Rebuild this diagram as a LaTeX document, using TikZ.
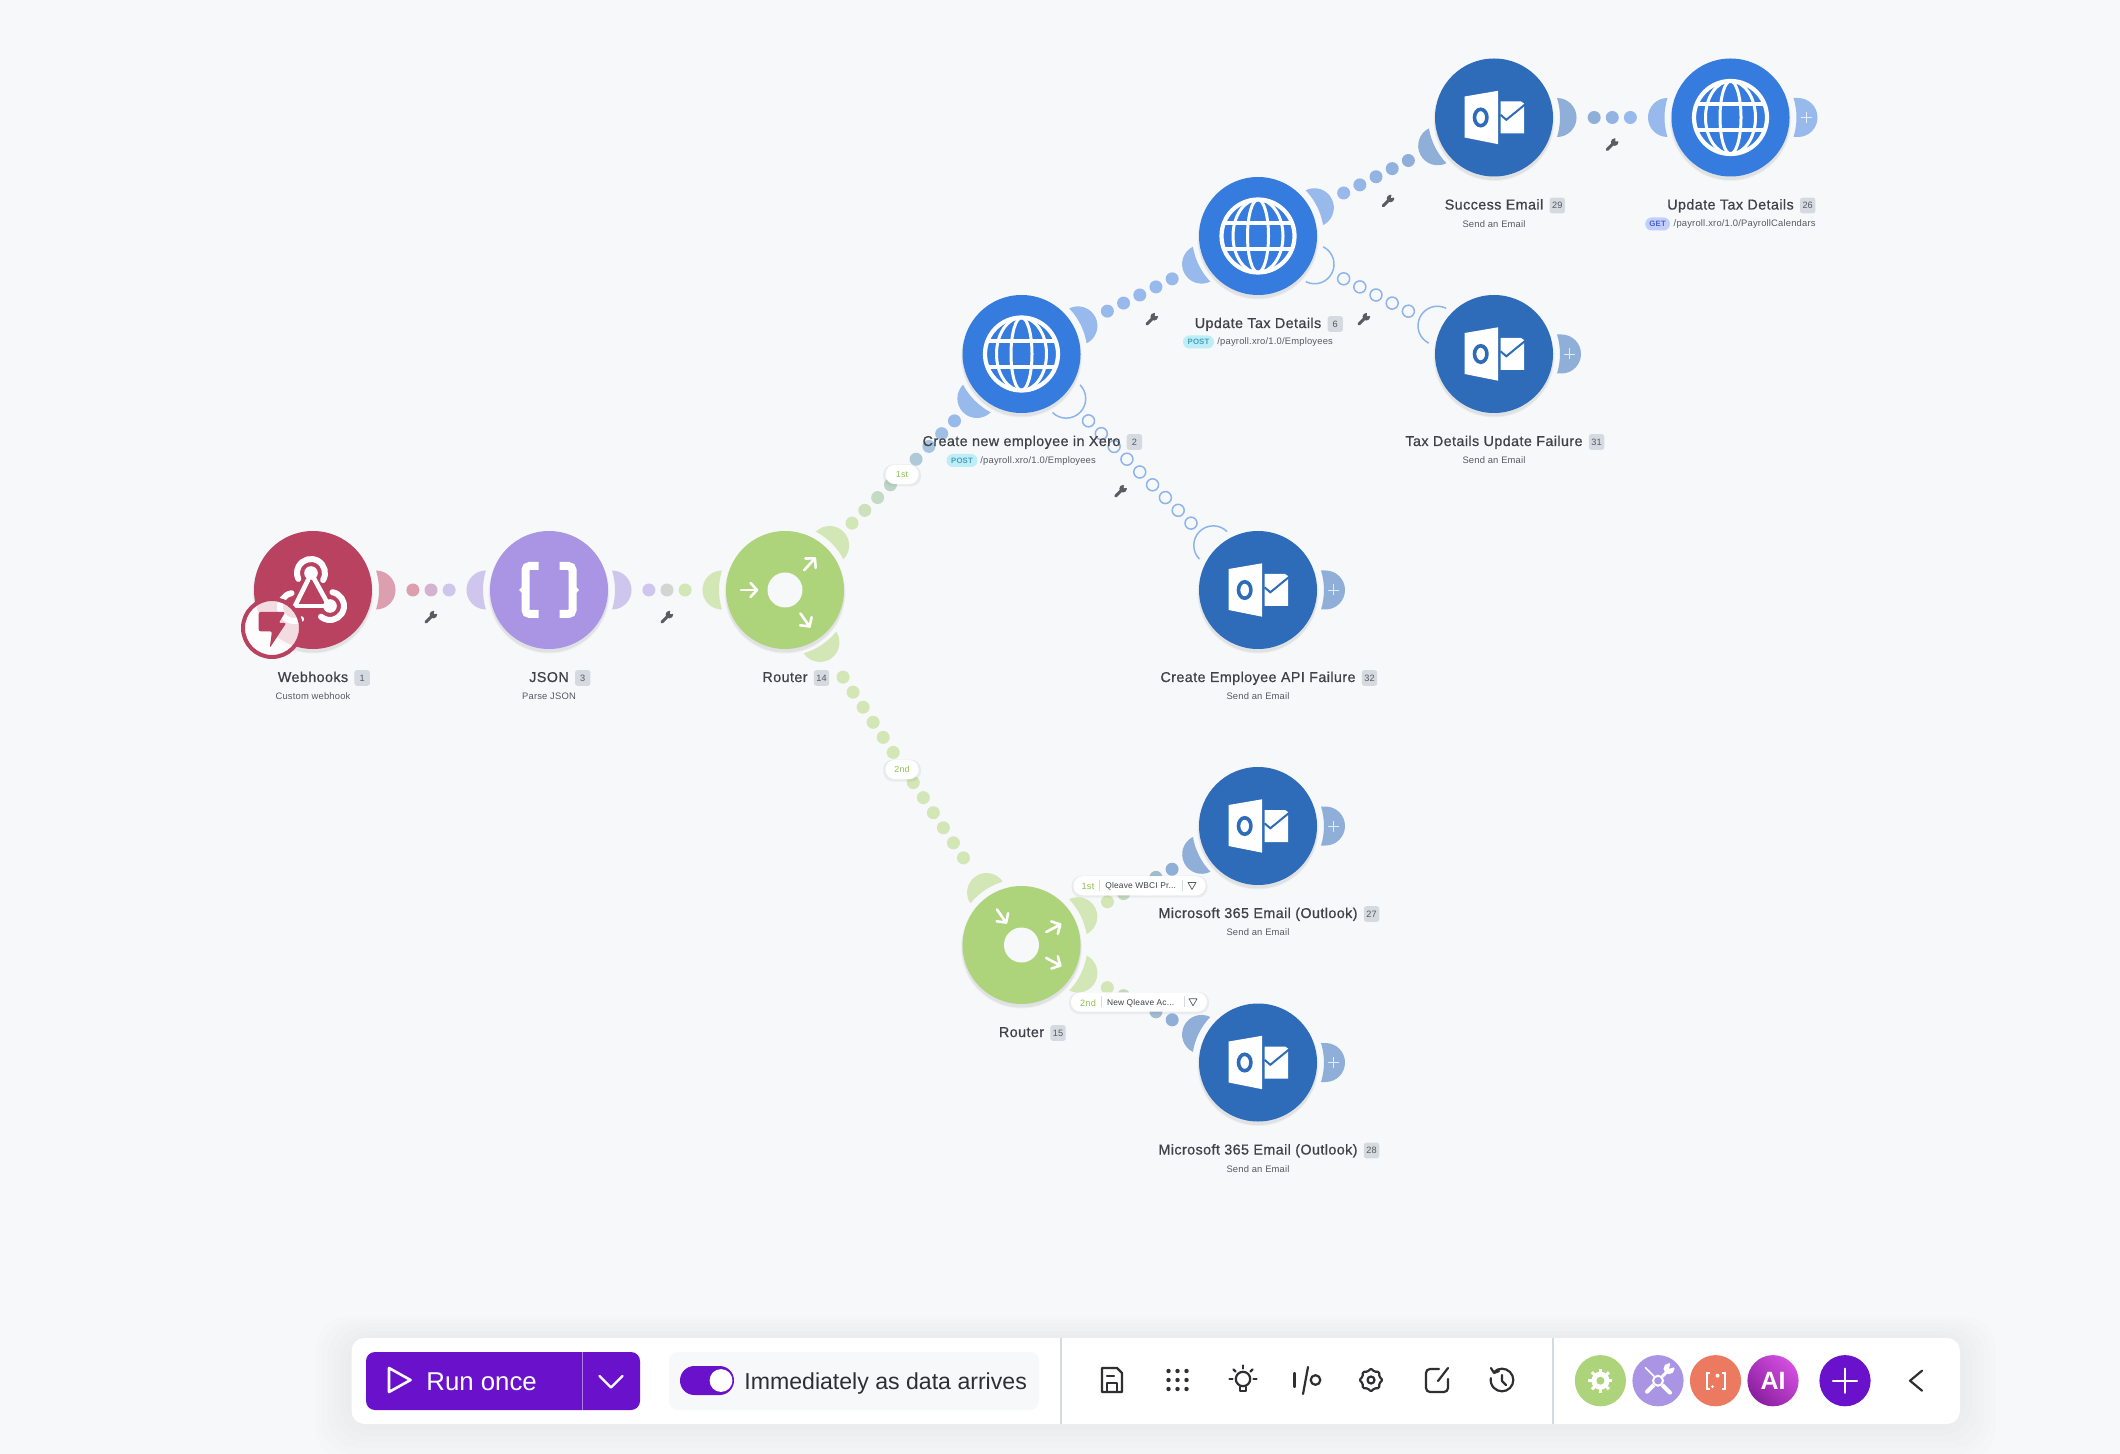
\documentclass[tikz,border=0pt]{standalone}
\usepackage{fontspec}
\setmainfont{Liberation Sans}
\newfontfamily\semi[LetterSpace=3,FakeBold=0.7]{Liberation Sans}
\newfontfamily\reg[LetterSpace=2]{Liberation Sans}
\usetikzlibrary{calc}
\definecolor{bgc}{HTML}{F7F8FA}
\definecolor{hookc}{HTML}{B84260}
\definecolor{jsonc}{HTML}{A995E3}
\definecolor{routc}{HTML}{AED47B}
\definecolor{httpc}{HTML}{367CDE}
\definecolor{mailc}{HTML}{2E6CB9}
\definecolor{hookm}{HTML}{DC9FB0}
\definecolor{jsonm}{HTML}{CFC6EE}
\definecolor{routm}{HTML}{D3E6B5}
\definecolor{httpm}{HTML}{97B9EC}
\definecolor{mailm}{HTML}{8FAFD9}
\definecolor{hollowc}{HTML}{8DB5EC}
\definecolor{titlec}{HTML}{3F4246}
\definecolor{subc}{HTML}{555A60}
\definecolor{badgec}{HTML}{D5DAE1}
\definecolor{purp}{HTML}{6A12CB}
\definecolor{toolc}{HTML}{2F2F33}
\definecolor{wrenchc}{HTML}{5A5C60}
\definecolor{greent}{HTML}{8CBF50}
\definecolor{orangec}{HTML}{EB7A60}
\definecolor{postbg}{HTML}{BDEEF8}
\definecolor{posttx}{HTML}{4A9FB8}
\definecolor{getbg}{HTML}{C3CFFB}
\definecolor{gettx}{HTML}{4A5FD0}
\definecolor{aitop}{HTML}{D44FE0}
\definecolor{aibot}{HTML}{8A1FA0}
\tikzset{
  module/.style={circle,inner sep=0pt,minimum size=59pt,draw=none},
  titletext/.style={inner sep=0pt,text=titlec,font=\fontsize{7.15}{8}\selectfont\semi,text height=5.4pt,text depth=1.4pt},
  subtext/.style={inner sep=0pt,text=subc,font=\fontsize{4.7}{6}\selectfont\reg,text height=3.6pt,text depth=1pt},
  badge/.style={inner sep=0pt,fill=badgec,rounded corners=1.2pt,text=subc,minimum width=7.7pt,minimum height=7.8pt,font=\fontsize{4.6}{6}\selectfont},
  pillbox/.style={inner sep=0pt,rounded corners=3.2pt,minimum height=6.5pt,font=\fontsize{3.9}{5}\selectfont\reg\bfseries},
  routepill/.style={inner sep=0pt,fill=white,rounded corners=4.7pt,minimum height=9.6pt,text=greent,font=\fontsize{4.4}{6}\selectfont\reg},
  toolicon/.style={draw=toolc,line width=1.1pt,line cap=round,line join=round},
  wht/.style={draw=white,line cap=round,line join=round},
  pics/globe/.style={code={
    \draw[white,line width=2.1pt] (0,0) circle[radius=36.5];
    \draw[white,line width=1.5pt] (0,0) ellipse[x radius=10.5,y radius=36.5];
    \draw[white,line width=1.5pt] (0,0) ellipse[x radius=25,y radius=36.5];
    \draw[white,line width=2pt] (-34,13) -- (34,13);
    \draw[white,line width=2pt] (-34,-13) -- (34,-13);
  }},
  pics/outlook/.style={code={
    \fill[white] (-29.3,21) -- (4,26.7) -- (4,-26.7) -- (-29.3,-20) -- cycle;
    \draw[mailc,line width=1.8pt] (-13.3,0) ellipse[x radius=6.2,y radius=8.2];
    \fill[white] (6.7,16) -- (27,16) -- (30,14) -- (30,-16) -- (6.7,-16) -- cycle;
    \draw[mailc,line width=1pt] (6.5,2.7) -- (12.3,-2.3) -- (31,13);
  }},
  pics/arrowicon/.style={code={
    \draw[wht,line width=1.3pt] (-8,0) -- (8,0);
    \draw[wht,line width=1.3pt] (1.5,7) -- (8,0) -- (1.5,-7);
  }},
  pics/wrench/.style={code={
    \draw[wrenchc,line width=1.5pt,line cap=round] (-5,-5) -- (2,2);
    \fill[wrenchc] (2.4,2.4) circle[radius=3.8];
    \fill[bgc] (3,3) -- (8,3.5) -- (3.5,8) -- cycle;
  }},
  pics/funnel/.style={code={
    \draw[subc,line width=.35pt,line join=round] (-4,3.2) -- (4,3.2) -- (0,-3.8) -- cycle;
  }}
}
\newcommand\modnode[4]{% name, x, y, colour
  \foreach \rr/\oo in {60.5/.04,59.5/.05}{\fill[black,opacity=\oo] (#2,#3-3) circle[radius=\rr];}
  \node[module,fill=#4] (#1) at (#2,#3) {};
}
\newcommand\moonA[3]{% from, to, colour: filled port on #1 towards #2
  \pgfmathanglebetweenpoints{\pgfpointanchor{#1}{center}}{\pgfpointanchor{#2}{center}}
  \let\ang\pgfmathresult
  \begin{scope}[shift={(#1.center)},rotate=\ang]
    \fill[#3] (17.2:66) arc[start angle=17.2,end angle=-17.2,radius=66]
      arc[start angle=-90,end angle=90,radius=19.5] -- cycle;
  \end{scope}
}
\newcommand\moonH[3]{% hollow port
  \pgfmathanglebetweenpoints{\pgfpointanchor{#1}{center}}{\pgfpointanchor{#2}{center}}
  \let\ang\pgfmathresult
  \begin{scope}[shift={(#1.center)},rotate=\ang]
    \draw[#3,line width=.75pt] (63.2,-19.5) arc[start angle=-90,end angle=90,radius=19.5];
  \end{scope}
}
\newcommand\moonP[2]{% plus port on the right
  \begin{scope}[shift={(#1.center)}]
    \fill[#2] (63,19.5) -- (67.5,19.5) arc[start angle=90,end angle=-90,radius=19.5] -- (63,-19.5)
      arc[start angle=-17.2,end angle=17.2,radius=66] -- cycle;
    \draw[white,opacity=.75,line width=.45pt] (70,0) -- (81,0) (75.5,-5.5) -- (75.5,5.5);
  \end{scope}
}
\newcommand\link[7]{% a, b, dot colour a, dot colour b, half count, moon a, moon b
  \foreach \i in {0,...,\numexpr2*#5\relax}{
    \pgfmathsetmacro\dd{(\i-#5)*9.05}
    \pgfmathtruncatemacro\pp{100*\i/(2*#5)}
    \colorlet{dotcol}{#4!\pp!#3}
    \fill[dotcol] ($(#1.center)!.5!(#2.center)!\dd pt!(#2.center)$) circle[radius=6.5];
  }
  \moonA{#1}{#2}{#6}
  \moonA{#2}{#1}{#7}
}
\newcommand\hlink[3]{% a, b, half count
  \foreach \i in {0,...,\numexpr2*#3\relax}{
    \pgfmathsetmacro\dd{(\i-#3)*9.05}
    \draw[hollowc,line width=.75pt] ($(#1.center)!.5!(#2.center)!\dd pt!(#2.center)$) circle[radius=6];
  }
  \moonH{#1}{#2}{hollowc}
  \moonH{#2}{#1}{hollowc}
}
\newcommand\wrenchat[2]{% a, b : wrench beside the middle of the link
  \coordinate (wm) at ($(#1.center)!.5!(#2.center)!13.5pt!-90:(#2.center)$);
  \pic at (wm) {wrench};
}
\newcommand\labelrow[4]{% name, module, title, number
  \node[titletext,anchor=center] (#1) at ($(#2.center)+(0,-88)$) {#3};
  \node[badge,anchor=west] (#1b) at ($(#1.east)+(5.5,0)$) {#4};
}
\begin{document}
\begin{tikzpicture}[x=.5pt,y=.5pt]
\useasboundingbox (0,0) rectangle (2120,-1454);
\fill[bgc] (0,0) rectangle (2120,-1454);

% modules
\modnode{m1}{313}{-590}{hookc}
\modnode{m3}{549}{-590}{jsonc}
\modnode{m14}{785}{-590}{routc}
\modnode{m2}{1021.5}{-354}{httpc}
\modnode{m6}{1258}{-236}{httpc}
\modnode{m29}{1494}{-117.5}{mailc}
\modnode{m26}{1730.5}{-117.5}{httpc}
\modnode{m31}{1494}{-354}{mailc}
\modnode{m32}{1258}{-590}{mailc}
\modnode{m15}{1021.5}{-945}{routc}
\modnode{m27}{1258}{-826}{mailc}
\modnode{m28}{1258}{-1062.5}{mailc}

% connectors
\link{m1}{m3}{hookm}{jsonm}{1}{hookm}{jsonm}
\link{m3}{m14}{jsonm}{routm}{1}{jsonm}{routm}
\link{m14}{m2}{routm}{httpm}{4}{routm}{httpm}
\link{m14}{m15}{routm}{routm}{6}{routm}{routm}
\link{m2}{m6}{httpm}{httpm}{2}{httpm}{httpm}
\link{m6}{m29}{httpm}{mailm}{2}{httpm}{mailm}
\link{m29}{m26}{mailm}{httpm}{1}{mailm}{httpm}
\link{m15}{m27}{routm}{mailm}{2}{routm}{mailm}
\link{m15}{m28}{routm}{mailm}{2}{routm}{mailm}
\hlink{m2}{m32}{4}
\hlink{m6}{m31}{2}
\moonP{m26}{httpm}
\moonP{m31}{mailm}
\moonP{m32}{mailm}
\moonP{m27}{mailm}
\moonP{m28}{mailm}

% wrenches
\wrenchat{m1}{m3}
\wrenchat{m3}{m14}
\wrenchat{m2}{m6}
\wrenchat{m6}{m29}
\wrenchat{m29}{m26}
\wrenchat{m6}{m31}
\wrenchat{m2}{m32}

% icons
\pic at (m2) {globe};
\pic at (m6) {globe};
\pic at (m26) {globe};
\foreach \mm in {m29,m31,m32,m27,m28}{\pic at (\mm) {outlook};}

% webhook
\begin{scope}[shift={(m1.center)}]
  \draw[wht,line width=2.3pt] (-2,17) -- (15,-14);
  \draw[wht,line width=2.3pt] (-18,-16) -- (17,-16);
  \draw[wht,line width=2.3pt] (-18,-16) -- (-5,10);
  \draw[wht,line width=3pt] (-2,17) ++(-30:14) arc[start angle=-30,end angle=205,radius=14];
  \fill[white] (-2,17) circle[radius=6.8];
  \draw[wht,line width=3pt] (17,-16) ++(80:14) arc[start angle=80,end angle=-130,radius=14];
  \fill[white] (17,-16) circle[radius=6.8];
  \draw[wht,line width=3pt] (-19,-17) ++(100:14) arc[start angle=100,end angle=300,radius=14];
\end{scope}
\node[circle,inner sep=0pt,minimum size=29pt,fill=white,fill opacity=.82,draw=hookc,line width=2pt,draw opacity=1] (bolt) at (272,-628) {};
\fill[hookc,rounded corners=1pt] ($(bolt)+(-13.3,16)$) -- ($(bolt)+(13.3,16)$) -- ($(bolt)+(6.7,5)$) -- ($(bolt)+(14.3,5)$) -- ($(bolt)+(-2.3,-20)$) -- ($(bolt)+(0,-3.3)$) -- ($(bolt)+(-13.3,-3.3)$) -- cycle;

% json braces
\begin{scope}[shift={(m3.center)}]
  \draw[white,line width=4pt,rounded corners=2pt] (-10.5,24) -- (-23.5,24) -- (-23.5,-24) -- (-10.5,-24);
  \draw[white,line width=4pt,rounded corners=2pt] (10.5,24) -- (23.5,24) -- (23.5,-24) -- (10.5,-24);
  \fill[white] (-24,6) -- (-30,0) -- (-24,-6) -- cycle;
  \fill[white] (24,6) -- (30,0) -- (24,-6) -- cycle;
\end{scope}

% routers
\fill[bgc] (m14.center) circle[radius=17.5];
\fill[bgc] (m15.center) circle[radius=17.5];
\begin{scope}[shift={(m14.center)}]
  \pic at (-36,0) {arrowicon};
  \pic[rotate=48] at (24.5,25.7) {arrowicon};
  \pic[rotate=-55] at (20,-30) {arrowicon};
\end{scope}
\begin{scope}[shift={(m15.center)}]
  \pic[rotate=-55] at (-20,29) {arrowicon};
  \pic[rotate=28] at (31.7,16.7) {arrowicon};
  \pic[rotate=-28] at (31.7,-16.7) {arrowicon};
\end{scope}

% labels
\labelrow{t1}{m1}{Webhooks}{1}
\labelrow{t3}{m3}{JSON}{3}
\labelrow{t14}{m14}{Router}{14}
\labelrow{t2}{m2}{Create new employee in Xero}{2}
\labelrow{t6}{m6}{Update Tax Details}{6}
\labelrow{t29}{m29}{Success Email}{29}
\labelrow{t26}{m26}{Update Tax Details}{26}
\labelrow{t31}{m31}{Tax Details Update Failure}{31}
\labelrow{t32}{m32}{Create Employee API Failure}{32}
\labelrow{t15}{m15}{Router}{15}
\labelrow{t27}{m27}{Microsoft 365 Email (Outlook)}{27}
\labelrow{t28}{m28}{Microsoft 365 Email (Outlook)}{28}
\node[subtext] (s1) at ($(m1.center)+(0,-107)$) {Custom webhook};
\node[subtext] (s3) at ($(m3.center)+(0,-107)$) {Parse JSON};
\foreach \mm in {m29,m31,m32,m27,m28}{\node[subtext] at ($(\mm.center)+(0,-107)$) {Send an Email};}
\node[subtext,anchor=west] (s2) at (980,-460.5) {/payroll.xro/1.0/Employees};
\node[pillbox,fill=postbg,text=posttx,minimum width=15.5pt] (p2) at (962,-460.5) {POST};
\node[subtext,anchor=west] (s6) at (1217,-342) {/payroll.xro/1.0/Employees};
\node[pillbox,fill=postbg,text=posttx,minimum width=15.5pt] (p6) at (1198.5,-342) {POST};
\node[subtext,anchor=west] (s26) at (1673.3,-224) {/payroll.xro/1.0/PayrollCalendars};
\node[pillbox,fill=getbg,text=gettx,minimum width=12.4pt] (p26) at (1657.6,-224) {GET};

% route pills
\foreach \pa/\pb/\pc in {902/-474.5/17,902/-769.5/17,1139.5/-885.7/66,1139/-1002/68}{
  \fill[black,opacity=.05,rounded corners=5pt] (\pa-\pc-2,\pb-12) rectangle (\pa+\pc+2,\pb+10);
}
\node[routepill,minimum width=16.5pt] (r1) at (902,-474.5) {1st};
\node[routepill,minimum width=16.5pt] (r2) at (902,-769.5) {2nd};
\node[routepill,minimum width=66pt] (f1) at (1139.5,-885.7) {};
\node[routepill,minimum width=68pt] (f2) at (1139,-1002) {};
\node[inner sep=0pt,text=greent,font=\fontsize{4.6}{6}\selectfont\reg] at (1088,-886.7) {1st};
\node[inner sep=0pt,text=greent,font=\fontsize{4.6}{6}\selectfont\reg] at (1088,-1003) {2nd};
\node[inner sep=0pt,anchor=west,text=titlec,font=\fontsize{4.2}{6}\selectfont\reg] at (1105,-886.7) {Qleave WBCI Pr...};
\node[inner sep=0pt,anchor=west,text=titlec,font=\fontsize{4.2}{6}\selectfont\reg] at (1106.7,-1003) {New Qleave Ac...};
\draw[badgec,line width=.3pt] (1099,-880) -- (1099,-891) (1182,-880) -- (1182,-891);
\draw[badgec,line width=.3pt] (1101.7,-996) -- (1101.7,-1007) (1184,-996) -- (1184,-1007);
\pic at (1192,-885.7) {funnel};
\pic at (1193,-1002) {funnel};

% toolbar shadow and bar
\foreach \gg in {36,30,24,18,12,6}{
  \fill[black,opacity=.008,rounded corners=16pt] (351.5-\gg,-1338+\gg*.6) rectangle (1960+\gg,-1424-\gg);
}
\fill[white,rounded corners=6.5pt] (351.5,-1338) rectangle (1960,-1424);
\draw[badgec,line width=.75pt] (1061,-1338) -- (1061,-1424) (1553,-1338) -- (1553,-1424);

% run button
\node[inner sep=0pt,fill=purp,rounded corners=4.5pt,minimum width=137pt,minimum height=29pt] (run) at (503,-1381) {};
\draw[purp!55!white,line width=.4pt] (582,-1352) -- (582,-1410);
\draw[wht,line width=1.3pt] (389,-1368) -- (410.5,-1380) -- (389,-1392) -- cycle;
\node[inner sep=0pt,anchor=base west,text=white,font=\fontsize{12.9}{14}\selectfont] (runt) at (426,-1390) {Run once};
\draw[wht,line width=1.2pt] (599.5,-1376) -- (611,-1387.5) -- (622.5,-1376);

% toggle
\node[inner sep=0pt,fill=bgc,rounded corners=4.5pt,minimum width=185pt,minimum height=29pt] (tog) at (854,-1381) {};
\fill[purp,rounded corners=7.2pt] (680,-1366) rectangle (734,-1395);
\fill[white] (721,-1380.5) circle[radius=11.4];
\node[inner sep=0pt,anchor=base west,text=toolc,font=\fontsize{11.55}{14}\selectfont] (togt) at (744,-1389) {Immediately as data arrives};

% tool icons
\begin{scope}[shift={(1112,-1380)}]
  \draw[toolicon] (-10,12) -- (5,12) -- (10,7) -- (10,-12) -- (-10,-12) -- cycle;
  \draw[toolicon] (-5,-12) -- (-5,-3) -- (5,-3) -- (5,-12);
  \draw[toolicon] (-5,4) -- (2,4);
\end{scope}
\begin{scope}[shift={(1177.5,-1380)}]
  \foreach \xa in {-9,0,9}{\foreach \ya in {-9,0,9}{\fill[toolc] (\xa,\ya) circle[radius=2.2];}}
\end{scope}
\begin{scope}[shift={(1243,-1380)}]
  \draw[toolicon] (0,1) circle[radius=7.2];
  \draw[toolicon] (-3,-7) -- (-3,-11) -- (3,-11) -- (3,-7);
  \foreach \ra in {0,45,90,135,180}{\draw[toolicon] (\ra:10.5) ++(0,1) -- ++(\ra:3);}
\end{scope}
\begin{scope}[shift={(1307,-1380)}]
  \draw[toolicon] (-12.5,7) -- (-12.5,-7);
  \draw[toolicon] (1,13) -- (-4,-14);
  \draw[toolicon] (8.5,0) circle[radius=4.8];
\end{scope}
\begin{scope}[shift={(1371,-1380)}]
  \draw[toolicon] (0,0) circle[radius=3.5];
  \draw[toolicon,rounded corners=.6pt] (0:11.5) -- (22.5:9) -- (45:11.5) -- (67.5:9) -- (90:11.5) -- (112.5:9) -- (135:11.5) -- (157.5:9) -- (180:11.5) -- (202.5:9) -- (225:11.5) -- (247.5:9) -- (270:11.5) -- (292.5:9) -- (315:11.5) -- (337.5:9) -- cycle;
\end{scope}
\begin{scope}[shift={(1437,-1380)}]
  \draw[toolicon,rounded corners=2pt] (2,11) -- (-11,11) -- (-11,-12) -- (11,-12) -- (11,1);
  \draw[toolicon] (1,-1) -- (11,12);
\end{scope}
\begin{scope}[shift={(1502,-1380)}]
  \draw[toolicon] (-8,8) arc[start angle=135,end angle=-190,radius=11.3];
  \draw[toolicon] (-11,12) -- (-8,7) -- (-3,9);
  \draw[toolicon] (0,5) -- (0,-1) -- (4,-5);
\end{scope}

% coloured buttons
\node[circle,inner sep=0pt,minimum size=25.6pt,fill=routc] (b1) at (1600.4,-1380.7) {};
\fill[white] (b1) circle[radius=9];
\fill[routc] (b1) circle[radius=4];
\foreach \ra in {0,45,...,315}{\draw[white,line width=1.5pt] ($(b1)+(\ra:8)$) -- ($(b1)+(\ra:12)$);}
\node[circle,inner sep=0pt,minimum size=25.6pt,fill=jsonc] (b2) at (1658,-1380.7) {};
\draw[wht,line width=.8pt] ($(b2)+(-12.5,13)$) -- ($(b2)+(12,-12)$);
\draw[wht,line width=2pt] ($(b2)+(4.5,-4.5)$) -- ($(b2)+(12,-12)$);
\draw[wht,line width=2pt] ($(b2)+(-11,-11)$) -- ($(b2)+(-4,-4)$);
\draw[wht,line width=1.5pt] ($(b2)+(4,4)$) -- ($(b2)+(9,9)$);
\fill[white] ($(b2)+(11,12)$) circle[radius=5.5];
\fill[jsonc] ($(b2)+(11,12)$) -- ($(b2)+(18,14)$) -- ($(b2)+(13,19)$) -- cycle;
\fill[jsonc] (b2) circle[radius=6];
\draw[white,line width=1pt] (b2) circle[radius=5];
\node[circle,inner sep=0pt,minimum size=25.6pt,fill=orangec] (b3) at (1715.5,-1380.7) {};
\draw[white,line width=1pt] ($(b3)+(-6,8)$) -- ($(b3)+(-9,8)$) -- ($(b3)+(-9,-8)$) -- ($(b3)+(-6,-8)$);
\draw[white,line width=1pt] ($(b3)+(6,8)$) -- ($(b3)+(9,8)$) -- ($(b3)+(9,-8)$) -- ($(b3)+(6,-8)$);
\fill[white] ($(b3)+(-3,-6)$) circle[radius=1.5];
\fill[white] ($(b3)+(2,5)$) circle[radius=2];
\node[circle,inner sep=0pt,minimum size=25.6pt,left color=aitop,right color=aibot,shading angle=-45,text=white,font=\fontsize{12.5}{14}\selectfont\bfseries] (b4) at (1773,-1380.7) {AI};
\node[circle,inner sep=0pt,minimum size=25.6pt,fill=purp] (b5) at (1845,-1380.7) {};
\draw[wht,line width=1.1pt] ($(b5)+(-12,0)$) -- ($(b5)+(12,0)$) ($(b5)+(0,-12)$) -- ($(b5)+(0,12)$);
\coordinate (bk) at (1916,-1380.7);
\draw[draw=toolc,line width=1.1pt,line cap=round,line join=round] ($(bk)+(6,10)$) -- ($(bk)+(-6,0)$) -- ($(bk)+(6,-10)$);
\end{tikzpicture}
\end{document}
